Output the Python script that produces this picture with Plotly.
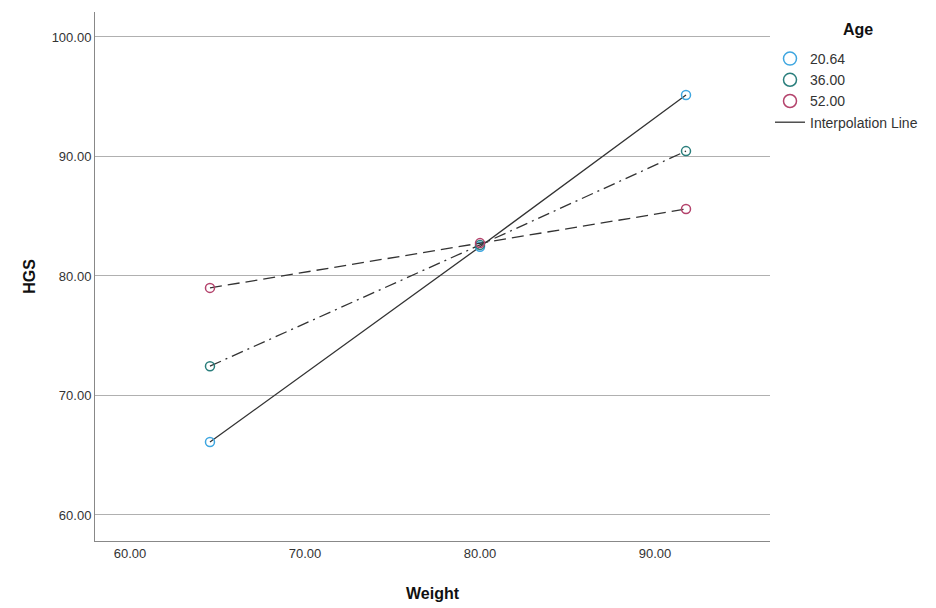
import plotly.graph_objects as go

weights = [64.57, 80.0, 91.77]
ages = ["20.64", "36.00", "52.00"]
hgs = {
    "20.64": [66.1, 82.45, 95.15],
    "36.00": [72.45, 82.6, 90.45],
    "52.00": [79.0, 82.75, 85.6],
}
colors = {"20.64": "#3ea6e0", "36.00": "#2a7e7c", "52.00": "#b4436c"}
dashes = {"20.64": "solid", "36.00": "12px,5px,2px,5px", "52.00": "12px,6px"}
x_ticks = [60, 70, 80, 90]
y_ticks = [60, 70, 80, 90, 100]

fig = go.Figure()
for a in ages:
    fig.add_trace(go.Scatter(
        x=weights, y=hgs[a], mode="lines+markers", showlegend=False,
        line=dict(color="#333333", width=1.3, dash=dashes[a]),
        marker=dict(symbol="circle-open", size=9, color=colors[a], line=dict(width=1.5)),
    ))
for a in ages:
    fig.add_trace(go.Scatter(
        x=[None], y=[None], mode="markers", name=a,
        marker=dict(symbol="circle-open", size=13, color=colors[a], line=dict(width=1.5)),
    ))
fig.add_trace(go.Scatter(
    x=[None], y=[None], mode="lines", name="Interpolation Line",
    line=dict(color="#333333", width=1.3),
))

pw = 936 - 95 - 166
ph = 608 - 12 - 67

fig.update_layout(
    width=936, height=608,
    margin=dict(l=95, r=166, t=12, b=67, autoexpand=False),
    paper_bgcolor="white", plot_bgcolor="white",
    font=dict(family="Liberation Sans, Arial, sans-serif", color="#333333"),
    xaxis=dict(
        range=[58.0, 96.57], tickvals=x_ticks,
        ticktext=[f"{v:.2f}" for v in x_ticks],
        showgrid=False, zeroline=False, showline=True, linecolor="#888888",
        ticks="", tickfont=dict(size=13, color="#333333"), automargin=False,
        title=dict(text="<b>Weight</b>", font=dict(size=16, color="#111111"), standoff=28),
    ),
    yaxis=dict(
        range=[57.82, 102.09], tickvals=y_ticks,
        ticktext=[f"{v:.2f}" for v in y_ticks],
        showgrid=True, gridcolor="#b0b0b0", gridwidth=1, zeroline=False,
        showline=True, linecolor="#888888", automargin=False,
        ticks="", tickfont=dict(size=13, color="#333333"),
        title=dict(text="<b>HGS</b>", font=dict(size=16, color="#111111"), standoff=12),
    ),
    legend=dict(
        x=1.0, xanchor="left", y=(541 - 43) / ph, yanchor="top",
        font=dict(size=14, color="#333333"), bgcolor="rgba(0,0,0,0)",
        tracegroupgap=0, itemsizing="trace",
    ),
    annotations=[dict(
        text="<b>Age</b>", x=(858 - 95) / pw, y=(541 - 30) / ph,
        xref="paper", yref="paper", xanchor="center", yanchor="middle",
        showarrow=False, font=dict(size=16, color="#111111"),
    )],
)
fig.write_html("out.html")
